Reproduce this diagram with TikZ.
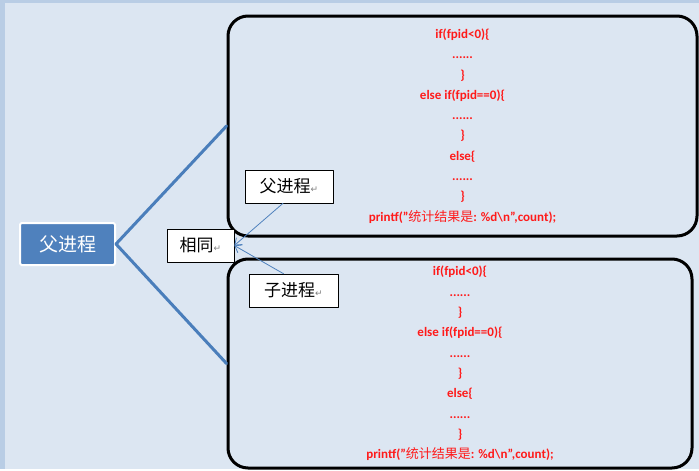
\documentclass[tikz,border=0pt]{standalone}
\usepackage{fontspec}
\setmainfont{Carlito}
\newfontfamily\cjk{Noto Sans CJK SC}
\newfontfamily\markfont{DejaVu Sans}
\usetikzlibrary{arrows.meta}

\definecolor{bgblue}{HTML}{DCE6F2}
\definecolor{bgedge}{HTML}{B9CDE5}
\definecolor{mapblue}{HTML}{4F81BD}
\definecolor{linkblue}{HTML}{4A7EBB}
\definecolor{codered}{HTML}{FF1A1A}

% the code shown in both boxes
\newcommand{\fpidcode}{%
	if(fpid<0)\{\\
	......\\
	\}\\
	else if(fpid==0)\{\\
	......\\
	\}\\
	else\{\\
	......\\
	\}\\
	printf("{\cjk\mdseries 统计结果是}: \%d\textbackslash n",count);}
\newcommand{\pmark}{{\markfont\fontsize{9}{9}\selectfont\color{gray}↵}}

\begin{document}
\begin{tikzpicture}[
						x=1pt, y=-1pt,
						line cap=round,
						line join=round,
						codebox/.style={draw=black, line width=3pt, rounded corners=20pt,
							align=center, text=codered, inner sep=0pt,
							font=\bfseries\fontsize{13}{20.3}\selectfont},
						rootnode/.style={fill=mapblue, draw=white, line width=2pt, rounded corners=1.5pt,
							text=white, minimum width=95pt, minimum height=42pt,
							font=\cjk\fontsize{19}{19}\selectfont},
						labelbox/.style={fill=white, draw=black, line width=0.6pt, inner sep=0pt,
							font=\cjk\fontsize{17}{17}\selectfont},
						branch/.style={draw=linkblue, line width=3pt},
						pointer/.style={draw=mapblue, line width=0.8pt, -{Straight Barb[length=6pt, width=9pt]}}
						]
						
						% Background
						\useasboundingbox (0,0) rectangle (699,471);
						\fill[white] (0,0) rectangle (699,471);
						\fill[bgedge] (0,0) rectangle (699,469);
						\fill[bgblue] (5,3) rectangle (699,469);
						
						% Code boxes
						\node[codebox, minimum width=469pt, minimum height=220pt] (upper) at (462.5,126) {\fpidcode};
						\node[codebox, minimum width=464pt, minimum height=209pt] (lower) at (460,363.5) {\fpidcode};
						
						% Root and branches
						\node[rootnode] (root) at (67.5,244) {父进程};
						\draw[branch] (root.east) -- (upper.west);
						\draw[branch] (root.east) -- (lower.west);
						
						% Labels
						\node[labelbox, minimum width=67pt, minimum height=33pt] (same) at (200.5,245.5) {相同\pmark};
						\node[labelbox, minimum width=88pt, minimum height=33pt] (fatherlbl) at (289,186.5) {父进程\pmark};
						\node[labelbox, minimum width=89pt, minimum height=33pt] (childlbl) at (293.5,290.5) {子进程\pmark};
						
						% Pointers
						\draw[pointer] ([xshift=-6pt]fatherlbl.south) -- (same.east);
						\draw[pointer] ([xshift=-10pt]childlbl.north) -- (same.east);
						
					\end{tikzpicture}
\end{document}
